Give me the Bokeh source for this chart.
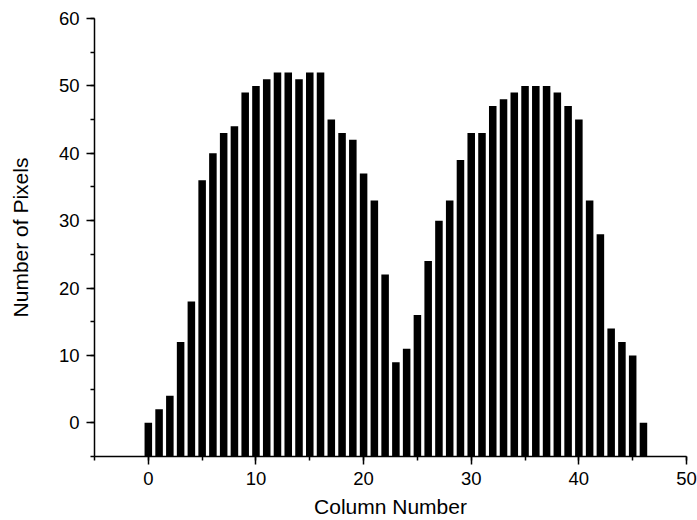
from bokeh.plotting import figure
from bokeh.models import Range1d, SingleIntervalTicker, ColumnDataSource
from bokeh.embed import file_html
from bokeh.resources import INLINE

columns = list(range(47))
pixels = [0, 2, 4, 12, 18, 36, 40, 43, 44, 49, 50, 51, 52, 52, 51, 52, 52,
          45, 43, 42, 37, 33, 22, 9, 11, 16, 24, 30, 33, 39, 43, 43, 47, 48,
          49, 50, 50, 50, 49, 47, 45, 33, 28, 14, 12, 10, 0]
x_title = "Column Number"
y_title = "Number of Pixels"
x_min, x_max = -5, 50
y_min, y_max = -5, 60

src = ColumnDataSource(dict(x=columns, top=pixels, bottom=[y_min] * len(columns)))

p = figure(width=697, height=520, output_backend="svg", toolbar_location=None,
           x_range=Range1d(x_min, x_max), y_range=Range1d(y_min, y_max),
           min_border_left=94, min_border_right=11, min_border_top=18,
           min_border_bottom=64)
p.background_fill_color = "white"
p.border_fill_color = "white"
p.outline_line_color = None
p.grid.visible = False

p.vbar(x="x", top="top", bottom="bottom", width=0.7, source=src,
       fill_color="black", line_color=None)

for ax in (p.xaxis[0], p.yaxis[0]):
    ax.ticker = SingleIntervalTicker(interval=10, num_minor_ticks=2)
    ax.axis_line_color = "black"
    ax.axis_line_width = 1.5
    ax.major_tick_line_color = "black"
    ax.minor_tick_line_color = "black"
    ax.major_tick_line_width = 1.5
    ax.minor_tick_line_width = 1.5
    ax.major_tick_in = 0
    ax.major_tick_out = 8
    ax.minor_tick_in = 0
    ax.minor_tick_out = 4
    ax.major_label_text_font = "Liberation Sans"
    ax.major_label_text_font_size = "18.5px"
    ax.major_label_text_color = "black"
    ax.axis_label_text_font = "Liberation Sans"
    ax.axis_label_text_font_size = "21px"
    ax.axis_label_text_font_style = "normal"
    ax.axis_label_text_color = "black"

p.xaxis.axis_label = x_title
p.yaxis.axis_label = y_title
p.xaxis.major_label_standoff = 7
p.xaxis.axis_label_standoff = 7
p.yaxis.major_label_standoff = 7
p.yaxis.axis_label_standoff = 24

open("out.html", "w").write(file_html(p, INLINE))
